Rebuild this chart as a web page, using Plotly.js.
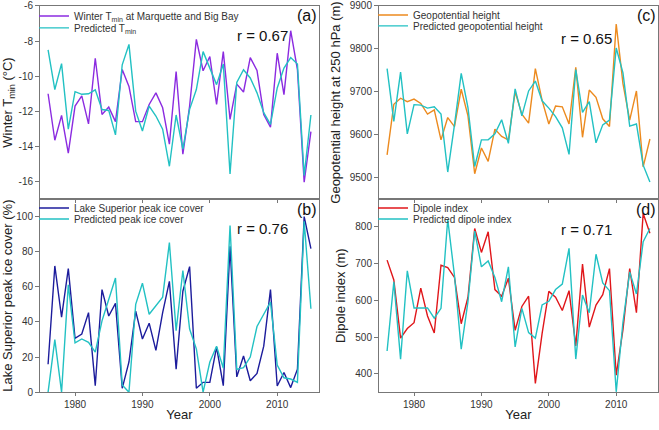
<!DOCTYPE html>
<html><head><meta charset="utf-8">
<script src="https://cdn.plot.ly/plotly-3.0.1.min.js"></script>
<style>html,body{margin:0;padding:0;background:#fff}#chart{width:659px;height:430px}</style>
</head><body><div id="chart"></div>
<script>
const years = [1976,1977,1978,1979,1980,1981,1982,1983,1984,1985,1986,1987,1988,1989,1990,1991,1992,1993,1994,1995,1996,1997,1998,1999,2000,2001,2002,2003,2004,2005,2006,2007,2008,2009,2010,2011,2012,2013,2014,2015];

const tminObs = [-11.0,-13.65,-12.23,-14.38,-11.7,-11.12,-12.72,-8.98,-12.18,-11.76,-12.59,-9.62,-10.58,-12.59,-12.59,-11.61,-10.95,-11.8,-13.87,-9.73,-14.44,-11.7,-7.9,-9.69,-8.88,-11.61,-8.6,-12.46,-10.45,-10.9,-8.94,-9.67,-12.18,-12.9,-8.69,-11.05,-7.41,-9.63,-16.04,-13.16];
const tminPred = [-8.5,-10.76,-9.28,-13.02,-10.88,-11.03,-11.0,-10.78,-11.9,-11.95,-13.34,-9.35,-8.19,-11.99,-13.12,-11.7,-12.27,-13.02,-15.13,-12.21,-14.15,-11.89,-10.76,-8.6,-9.54,-10.48,-9.31,-15.57,-10.35,-9.63,-10.1,-10.95,-12.08,-12.74,-10.67,-9.54,-8.94,-9.31,-15.66,-12.21];

const iceObs = [15.9,71.9,42.7,70.4,30.7,33.1,45.3,3.7,58.4,43.4,50.6,2.2,17.2,46.2,30.3,39.3,23.8,45.3,63.1,13.1,57.5,71.5,2.2,5.6,5.6,25.6,3.7,83.1,8.7,20.6,6.5,10.7,26.2,58.4,3.5,11.2,2.6,13.1,100,81.8];
const icePred = [0,29.9,0,61.2,28.1,30.3,28.4,22.8,40.6,52.8,65.0,4.1,0,50.0,62.1,44.4,49.0,54.1,85.2,35.0,69.3,36.0,24.7,0,17.2,26.2,13.7,94.9,13.0,14.0,20.0,37.4,44.4,51.3,15.5,8.2,7.5,5.6,97.4,47.5];

const geoObs = [9553,9671,9685,9677,9683,9673,9648,9658,9588,9640,9619,9706,9644,9509,9569,9538,9613,9596,9588,9700,9648,9627,9754,9680,9625,9667,9665,9625,9757,9594,9704,9687,9637,9619,9858,9719,9634,9702,9525,9590];
const geoPred = [9754,9631,9746,9602,9670,9669,9662,9665,9648,9513,9623,9743,9663,9526,9588,9588,9602,9635,9580,9707,9644,9702,9725,9679,9662,9642,9616,9554,9752,9652,9677,9581,9623,9634,9802,9744,9620,9625,9529,9490];

const dipObs = [709,655,497,523,539,633,557,511,695,689,662,536,608,795,730,786,629,611,660,518,583,611,374,509,624,608,572,626,476,698,527,587,615,686,396,520,686,566,836,782];
const dipPred = [462,650,440,680,579,579,579,551,578,820,667,467,596,788,691,707,662,596,691,473,578,512,497,587,597,629,644,741,440,614,566,725,647,626,351,540,677,617,759,795];

const xTicks = [1980,1990,2000,2010];
const tminTicks = [-6,-8,-10,-12,-14,-16];
const iceTicks = [0,20,40,60,80,100];
const geoTicks = [9500,9600,9700,9800,9900];
const dipTicks = [400,500,600,700,800];

const names = {
  a: ['Winter T<sub>min</sub> at Marquette and Big Bay','Predicted T<sub>min</sub>'],
  b: ['Lake Superior peak ice cover','Predicted peak ice cover'],
  c: ['Geopotential height','Predicted geopotential height'],
  d: ['Dipole index','Predicted dipole index']
};

const W = 659, H = 430;
const px = v => v / W, py = v => 1 - v / H;
const cyan = '#22c1c3';
const font = 'Liberation Sans, Arial, sans-serif';

function tr(y, name, color, xa, ya, leg) {
  return {x: years, y: y, name: name, type: 'scatter', mode: 'lines',
    line: {color: color, width: 1.4}, xaxis: xa, yaxis: ya, legend: leg};
}
const data = [
  tr(tminObs, names.a[0], '#8b2be0', 'x', 'y', 'legend'),
  tr(tminPred, names.a[1], cyan, 'x', 'y', 'legend2'),
  tr(iceObs, names.b[0], '#1c1c9c', 'x2', 'y2', 'legend3'),
  tr(icePred, names.b[1], cyan, 'x2', 'y2', 'legend4'),
  tr(geoObs, names.c[0], '#ec8a1e', 'x3', 'y3', 'legend5'),
  tr(geoPred, names.c[1], cyan, 'x3', 'y3', 'legend6'),
  tr(dipObs, names.d[0], '#e0161a', 'x4', 'y4', 'legend7'),
  tr(dipPred, names.d[1], cyan, 'x4', 'y4', 'legend8')
];

function xax(dom, anchor, labels, title) {
  const o = {domain: dom, anchor: anchor, range: [1974.8, 2016.2], tickmode: 'array', tickvals: xTicks,
    showticklabels: labels, ticks: 'outside', ticklen: 3, tickcolor: '#777', showline: true, linecolor: '#777',
    linewidth: 1, mirror: true, showgrid: false, zeroline: false, tickfont: {size: 10, color: '#333'}};
  if (title) o.title = {text: 'Year', font: {size: 13, color: '#222'}, standoff: 0};
  return o;
}
function yax(dom, anchor, range, ticks, title, hyphen) {
  return {domain: dom, anchor: anchor, range: range, tickmode: 'array', tickvals: ticks,
    ticktext: ticks.map(v => String(v)),
    ticks: 'outside', ticklen: 4, tickcolor: '#777', showline: true, linecolor: '#777', linewidth: 1,
    mirror: true, showgrid: false, zeroline: false, tickfont: {size: 10, color: '#333'},
    title: {text: title, font: {size: 13, color: '#222'}, standoff: 6}};
}
const xL = [px(40), px(319)], xR = [px(379), px(658)];
const yT = [py(198), py(4)], yB = [py(392), py(198)];

function leg(x, y) {
  return {x: px(x), y: py(y), xanchor: 'left', yanchor: 'middle', bgcolor: 'rgba(0,0,0,0)',
    font: {size: 10, color: '#333', family: font}, itemwidth: 30, borderwidth: 0};
}
function ann(x, y, text, size) {
  return {xref: 'paper', yref: 'paper', x: px(x), y: py(y), text: text, showarrow: false,
    xanchor: 'center', yanchor: 'middle', font: {size: size, color: '#111', family: font}};
}

const layout = {
  width: W, height: H, margin: {l: 0, r: 0, t: 0, b: 0}, paper_bgcolor: '#fff', plot_bgcolor: '#fff',
  font: {family: font}, showlegend: true,
  xaxis: xax(xL, 'y', false, false),
  yaxis: yax(yT, 'x', [-17, -6], tminTicks, 'Winter T<sub>min</sub> (°C)', true),
  xaxis2: xax(xL, 'y2', true, true),
  yaxis2: yax(yB, 'x2', [0, 110], iceTicks, 'Lake Superior peak ice cover (%)', false),
  xaxis3: xax(xR, 'y3', false, false),
  yaxis3: yax(yT, 'x3', [9450, 9900], geoTicks, 'Geopotential height at 250 hPa (m)', false),
  xaxis4: xax(xR, 'y4', true, true),
  yaxis4: yax(yB, 'x4', [350, 875], dipTicks, 'Dipole index (m)', false),
  legend: leg(34, 14), legend2: leg(34, 26),
  legend3: leg(34, 207), legend4: leg(34, 218),
  legend5: leg(373, 13), legend6: leg(373, 24),
  legend7: leg(373, 207), legend8: leg(373, 218),
  annotations: [
    ann(307, 14, '(a)', 16), ann(262, 34, 'r = 0.67', 15),
    ann(307, 208, '(b)', 16), ann(262, 228, 'r = 0.76', 15),
    ann(646, 14, '(c)', 16), ann(586, 37, 'r = 0.65', 15),
    ann(646, 208, '(d)', 16), ann(586, 229, 'r = 0.71', 15)
  ]
};
Plotly.newPlot('chart', data, layout, {displayModeBar: false, staticPlot: true});
</script></body></html>
